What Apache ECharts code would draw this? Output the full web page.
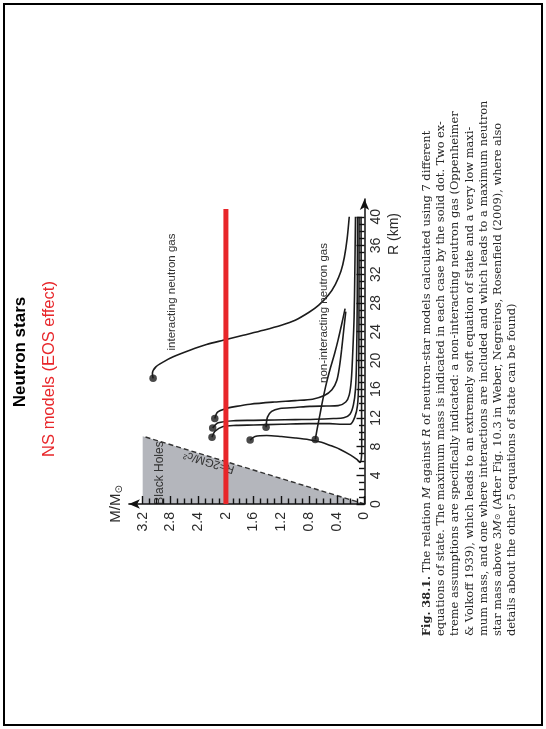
<!DOCTYPE html>
<html>
<head>
<meta charset="utf-8">
<script src="https://cdn.jsdelivr.net/npm/echarts@6/dist/echarts.min.js"></script>
<style>
html,body{margin:0;padding:0;background:#fff;}
#chart{width:546px;height:729px;}
</style>
</head>
<body>
<div id="chart"></div>
<script>
// Axis ranges and steps: mass in solar masses, radius in km
const massRange = [0, 3.2];
const massStep = 0.4;
const radiusRange = [0, 40];
const radiusStep = 4;
// Axis lines run a little past the last tick to their arrow heads
const massArrowEnd = 3.4;
const radiusArrowEnd = 42.5;

// Schwarzschild limit R = 2GM/c^2 (black-hole region below it)
const horizonLine = [[0, 0], [3.2, 9.45]];

// Mass-radius curves [M, R]; the first point of each is the maximum-mass star
const interactingGas = [[3.05, 17.5], [3.06, 18.2], [3.01, 19.1], [2.90, 19.8], [2.76, 20.5],
  [2.52, 21.4], [2.28, 22.2], [2.04, 22.8], [1.75, 23.5], [1.46, 24.2], [1.20, 24.9],
  [1.00, 25.6], [0.80, 26.7], [0.66, 27.7], [0.52, 29.1], [0.42, 30.6], [0.34, 32.4],
  [0.29, 34.4], [0.25, 37.0], [0.22, 40.0]];
const eosStiffA = [[2.16, 11.9], [2.12, 12.8], [2.00, 13.3], [1.85, 13.6], [1.65, 13.9],
  [1.30, 14.2], [1.00, 14.4], [0.75, 14.6], [0.58, 15.1], [0.47, 15.9], [0.40, 17.2],
  [0.36, 19.2], [0.33, 21.5], [0.30, 24.2], [0.27, 26.8]];
const eosStiffB = [[2.19, 10.6], [2.11, 11.3], [1.89, 11.6], [1.60, 11.65], [1.30, 11.7],
  [1.00, 11.75], [0.70, 11.8], [0.45, 11.9], [0.30, 12.0], [0.21, 12.5], [0.16, 13.8],
  [0.13, 16.0], [0.115, 20.0], [0.105, 28.0], [0.10, 40.0]];
const eosStiffC = [[2.20, 9.3], [2.16, 10.1], [2.04, 10.8], [1.85, 10.95], [1.60, 11.0],
  [1.20, 11.1], [0.80, 11.2], [0.50, 11.2], [0.32, 11.1], [0.21, 11.1], [0.14, 12.1],
  [0.10, 13.8], [0.085, 17.0], [0.08, 25.0], [0.078, 40.0]];
const eosMedium = [[1.42, 10.7], [1.40, 12.1], [1.34, 12.9], [1.22, 13.3], [1.00, 13.45],
  [0.79, 13.6], [0.55, 13.65], [0.38, 13.7], [0.27, 14.2], [0.22, 15.2], [0.19, 17.3],
  [0.17, 21.0], [0.15, 26.0], [0.14, 32.0], [0.13, 40.0]];
const eosSoft = [[1.65, 8.9], [1.58, 9.4], [1.41, 9.55], [1.20, 9.4], [1.00, 9.2],
  [0.80, 8.95], [0.62, 8.6], [0.48, 8.1], [0.35, 7.6], [0.20, 6.8], [0.11, 6.2],
  [0.065, 5.8], [0.045, 6.4], [0.04, 7.8], [0.042, 13.0], [0.046, 25.0], [0.05, 40.0]];
const nonInteractingGas = [[0.71, 9.0], [0.68, 10.6], [0.64, 12.6], [0.60, 14.6],
  [0.55, 16.8], [0.49, 19.0], [0.43, 21.0], [0.38, 22.9], [0.33, 25.0], [0.28, 27.2]];

// Reference mass line at 2 solar masses
const limitLine = [[2, 0], [2, 41.1]];

const curves = [interactingGas, eosStiffA, eosStiffB, eosStiffC, eosMedium, eosSoft, nonInteractingGas];
const maxima = curves.map(c => c[0]);

const captionLines = [
  '{b|Fig. 38.1.} The relation {i|M} against {i|R} of neutron-star models calculated using 7 different',
  'equations of state. The maximum mass is indicated in each case by the solid dot. Two ex-',
  'treme assumptions are specifically indicated: a non-interacting neutron gas (Oppenheimer',
  '& Volkoff 1939), which leads to an extremely soft equation of state and a very low maxi-',
  'mum mass, and one where interactions are included and which leads to a maximum neutron',
  'star mass above 3{i|M}{s|\u2299} (After Fig. 10.3 in Weber, Negreiros, Rosenfield (2009), where also',
  'details about the other 5 equations of state can be found)'
];

const sans = 'Liberation Sans, Arial, sans-serif';
const serif = 'DejaVu Serif, serif';
const ink = '#1c1c1c';
const axisInk = '#111';

const chart = echarts.init(document.getElementById('chart'), null, {renderer: 'canvas'});

const curveSeries = curves.map(c => ({
  type: 'line', data: c, symbol: 'none', smooth: 0.3,
  lineStyle: {color: ink, width: 1.6}, z: 3, silent: true
}));

const graphics = [
  {type: 'rect', shape: {x: 4, y: 4, width: 538, height: 721},
   style: {fill: 'none', stroke: '#000', lineWidth: 2}},
  {type: 'text', x: 20, y: 352, rotation: Math.PI / 2,
   style: {text: 'Neutron stars', fontFamily: sans, fontWeight: 'bold', fontSize: 17,
           fill: '#000', align: 'center', verticalAlign: 'middle'}},
  {type: 'text', x: 49, y: 369, rotation: Math.PI / 2,
   style: {text: 'NS models (EOS effect)', fontFamily: sans, fontSize: 16.5,
           fill: '#e8262a', align: 'center', verticalAlign: 'middle'}},
  {type: 'text', x: 172, y: 292, rotation: Math.PI / 2, z: 5,
   style: {text: 'interacting neutron gas', fontFamily: sans, fontSize: 11.5,
           fill: '#333', align: 'center', verticalAlign: 'middle'}},
  {type: 'text', x: 324, y: 313, rotation: Math.PI / 2, z: 5,
   style: {text: 'non-interacting neutron gas', fontFamily: sans, fontSize: 11.5,
           fill: '#333', align: 'center', verticalAlign: 'middle'}},
  {type: 'text', x: 160, y: 473, rotation: Math.PI / 2, z: 5,
   style: {text: 'Black Holes', fontFamily: sans, fontSize: 12,
           fill: '#333', align: 'center', verticalAlign: 'middle'}},
  {type: 'text', x: 209, y: 462, rotation: 2.84, z: 5,
   style: {text: 'R=2GM/c\u00b2', fontFamily: sans, fontSize: 11.5,
           fill: '#333', align: 'center', verticalAlign: 'middle'}},
  {type: 'text', x: 116, y: 504, rotation: Math.PI / 2, z: 5,
   style: {text: 'M/M{s|\u2299}', fontFamily: sans, fontSize: 15, fill: '#2b2b2b',
           align: 'center', verticalAlign: 'middle',
           rich: {s: {fontSize: 10, fontFamily: 'DejaVu Sans', verticalAlign: 'bottom', padding: [6, 0, 0, 0]}}}},
  {type: 'text', x: 394, y: 234, rotation: Math.PI / 2, z: 5,
   style: {text: 'R (km)', fontFamily: sans, fontSize: 14, fill: '#2b2b2b',
           align: 'center', verticalAlign: 'middle'}}
];

captionLines.forEach((line, i) => {
  graphics.push({
    type: 'text', x: 427 + i * 14.2, y: 636, rotation: Math.PI / 2,
    style: {
      text: line, fontFamily: serif, fontSize: 11.4, fill: '#262626',
      align: 'left', verticalAlign: 'middle',
      rich: {
        b: {fontWeight: 'bold', fontFamily: serif, fontSize: 11.4},
        i: {fontStyle: 'italic', fontFamily: serif, fontSize: 11.4},
        s: {fontFamily: 'DejaVu Sans', fontSize: 8}
      }
    }
  });
});

const tickStyle = {color: axisInk, width: 1.4};

const option = {
  animation: false,
  backgroundColor: '#fff',
  grid: [
    // plotting area: ticks, labels and data
    {left: 142.7, right: 181.5, top: 216.8, bottom: 225, outerBoundsMode: 'none'},
    // same origin, longer extent: axis lines with arrow heads
    {left: 128.9, right: 181.5, top: 199, bottom: 225, outerBoundsMode: 'none'}
  ],
  xAxis: [{
    gridIndex: 0, type: 'value', min: massRange[0], max: massRange[1], interval: massStep,
    inverse: true, position: 'bottom', z: 10,
    axisLine: {show: false},
    axisTick: {show: true, inside: true, length: 8, lineStyle: tickStyle},
    minorTick: {show: true, splitNumber: 4, length: 5.5, lineStyle: tickStyle},
    axisLabel: {show: true, rotate: 90, margin: 8,
                fontFamily: sans, fontSize: 14, color: '#2b2b2b'},
    splitLine: {show: false}, minorSplitLine: {show: false}
  }, {
    gridIndex: 1, type: 'value', min: 0, max: massArrowEnd, inverse: true, position: 'bottom', z: 10,
    axisLine: {show: true, onZero: false, symbol: ['arrow', 'none'], symbolSize: [7, 11],
               lineStyle: {color: axisInk, width: 1.5}},
    axisTick: {show: false}, axisLabel: {show: false}, splitLine: {show: false}
  }],
  yAxis: [{
    gridIndex: 0, type: 'value', min: radiusRange[0], max: radiusRange[1], interval: radiusStep,
    position: 'right', z: 10,
    axisLine: {show: false},
    axisTick: {show: true, inside: true, length: 8, lineStyle: tickStyle},
    minorTick: {show: true, splitNumber: 4, length: 5.5, lineStyle: tickStyle},
    axisLabel: {show: true, rotate: 90, margin: 5,
                fontFamily: sans, fontSize: 14, color: '#2b2b2b'},
    splitLine: {show: false}, minorSplitLine: {show: false}
  }, {
    gridIndex: 1, type: 'value', min: 0, max: radiusArrowEnd, position: 'right', z: 10,
    axisLine: {show: true, onZero: false, symbol: ['none', 'arrow'], symbolSize: [7, 11],
               lineStyle: {color: axisInk, width: 1.5}},
    axisTick: {show: false}, axisLabel: {show: false}, splitLine: {show: false}
  }],
  series: [
    {type: 'line', data: horizonLine, symbol: 'none', z: 0, silent: true,
     lineStyle: {type: [5, 3], color: '#333', width: 1.4},
     areaStyle: {color: '#b4b6bc', opacity: 1}},
    ...curveSeries,
    {type: 'scatter', data: maxima, symbolSize: 7.5, itemStyle: {color: ink}, z: 4, silent: true},
    {type: 'line', data: limitLine, xAxisIndex: 1, yAxisIndex: 1, symbol: 'none', z: 12, silent: true,
     lineStyle: {color: '#e8262a', width: 5, cap: 'butt'}}
  ],
  graphic: {elements: graphics}
};

chart.setOption(option);
</script>
</body>
</html>
